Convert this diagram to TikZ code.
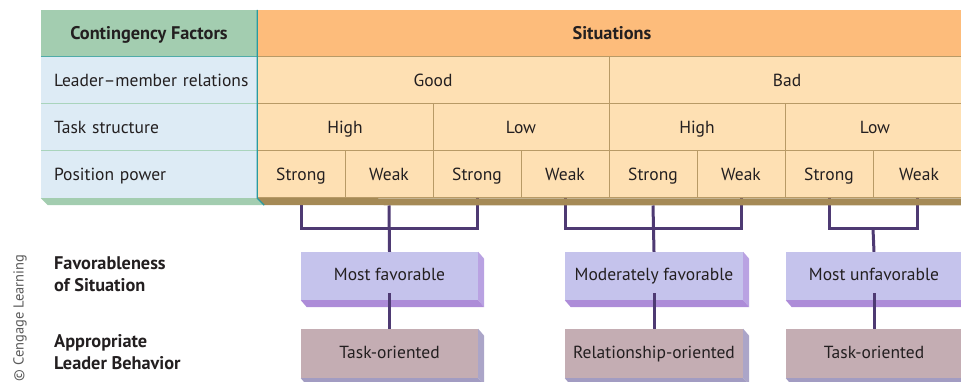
\documentclass[tikz,border=0pt]{standalone}
\usepackage{fontspec}
\setmainfont{PT Sans}
\definecolor{hdrL}{HTML}{A3CDB0}
\definecolor{hdrR}{HTML}{FDBC7B}
\definecolor{rowL}{HTML}{DDEBF5}
\definecolor{rowR}{HTML}{FEE0B3}
\definecolor{gridR}{HTML}{B89A66}
\definecolor{gridL}{HTML}{A9D4BC}
\definecolor{bandR}{HTML}{A58A56}
\definecolor{teal}{HTML}{2A9AA0}
\definecolor{conn}{HTML}{4E3A73}
\definecolor{favF}{HTML}{C5C3EC}
\definecolor{favS}{HTML}{B9A2E2}
\definecolor{favB}{HTML}{AD8CD8}
\definecolor{behF}{HTML}{C4ADB3}
\definecolor{behS}{HTML}{ABA5C8}
\definecolor{behB}{HTML}{A29CC2}
\definecolor{txt}{HTML}{231F20}
\begin{document}
\begin{tikzpicture}[x=1pt,y=-1pt,
  every node/.style={text=txt, inner sep=0pt},
  basefont/.style={font=\fontsize{17.5}{21}\selectfont, text height=12.5pt, text depth=3.5pt},
  cellfont/.style={font=\fontsize{17.5}{21}\selectfont, text height=15pt, text depth=2pt},
  cellR/.style={cellfont, fill=rowR, draw=gridR, line width=1pt, minimum height=47pt},
  cellL/.style={cellfont, fill=rowL, minimum height=47pt, minimum width=216pt, text width=190pt, align=left},
  hdr/.style={font=\fontsize{18.3}{21}\selectfont\bfseries, text height=15pt, text depth=2pt, minimum height=47pt},
  conline/.style={draw=conn, line width=3pt, line join=miter},
  favbox/.style={basefont, fill=favF, minimum height=48pt},
  behbox/.style={basefont, fill=behF, minimum height=49pt},
  sidelabel/.style={font=\fontsize{18.3}{22}\selectfont\bfseries, align=left, anchor=west}
]
\useasboundingbox (0,0) rectangle (961,382);

\coordinate (j1) at (389,229);
\coordinate (j2) at (653,229);
\coordinate (j3) at (873,229);

% header
\node[hdr, fill=hdrL, minimum width=216pt] (hL) at (149,33.5) {Contingency Factors};
\node[hdr, fill=hdrR, minimum width=710pt] (hR) at (612,33.5) {Situations};

% left column
\node[cellL] (lm) at (149,80.5) {\mbox{Leader–member relations}};
\node[cellL] (ts) at (149,127.5) {Task structure};
\node[cellL] (pp) at (149,174.5) {Position power};
\draw[teal!70!gridL, line width=1pt] (lm.north west) -- (lm.north east);
\draw[gridL, line width=1pt] (ts.north west) -- (ts.north east);
\draw[gridL, line width=1pt] (pp.north west) -- (pp.north east);

% right cells
\node[cellR, minimum width=352pt] (good) at (433,80.5) {Good};
\node[cellR, minimum width=356pt] (bad) at (787,80.5) {Bad};
\node[cellR, minimum width=176pt] (hi1) at (345,127.5) {High};
\node[cellR, minimum width=176pt] (lo1) at (521,127.5) {Low};
\node[cellR, minimum width=176pt] (hi2) at (697,127.5) {High};
\node[cellR, minimum width=180pt] (lo2) at (875,127.5) {Low};
\node[cellR, minimum width=88pt] (p1) at (301,174.5) {Strong};
\node[cellR, minimum width=88pt] (p2) at (389,174.5) {Weak};
\node[cellR, minimum width=88pt] (p3) at (477,174.5) {Strong};
\node[cellR, minimum width=88pt] (p4) at (565,174.5) {Weak};
\node[cellR, minimum width=88pt] (p5) at (653,174.5) {Strong};
\node[cellR, minimum width=88pt] (p6) at (741,174.5) {Weak};
\node[cellR, minimum width=88pt] (p7) at (829,174.5) {Strong};
\node[cellR, minimum width=92pt] (p8) at (919,174.5) {Weak};

% connectors
\draw[conline] (p1.south) |- (j1) -| (p3.south);
\draw[conline] (p4.south) |- (j2) -| (p6.south);
\draw[conline] (p7.south) |- (j3) -| ([xshift=-2pt]p8.south);

% bottom bands of the table
\fill[hdrL] (pp.south west) -- (pp.south east) -- ++(7,7) -- ([shift={(7,7)}]pp.south west) -- cycle;
\fill[bandR] (pp.south east) -- ([xshift=10pt]p8.south east) -- ++(0,7) -- ([shift={(7,7)}]pp.south east) -- cycle;
\draw[teal, line width=1.2pt] (hL.north east) -- (pp.south east) -- ++(7,7);

% favorableness boxes
\node[favbox, minimum width=177pt] (f1) at (389.5,276) {Most favorable};
\node[favbox, minimum width=178pt] (f2) at (654,276) {Moderately favorable};
\node[favbox, minimum width=176pt] (f3) at (874,276) {Most unfavorable};
% behaviour boxes
\node[behbox, minimum width=177pt] (b1) at (389.5,353.5) {Task-oriented};
\node[behbox, minimum width=178pt] (b2) at (654,353.5) {Relationship-oriented};
\node[behbox, minimum width=176pt] (b3) at (874,353.5) {Task-oriented};

\foreach \n in {f1,f2,f3} {
  \fill[favS] (\n.north east) -- ++(6,7) -- ([shift={(6,7)}]\n.south east) -- (\n.south east) -- cycle;
  \fill[favB] (\n.south west) -- ++(6,7) -- ([shift={(6,7)}]\n.south east) -- (\n.south east) -- cycle;
}
\foreach \n in {b1,b2,b3} {
  \fill[behS] (\n.north east) -- ++(6,7) -- ([shift={(6,7)}]\n.south east) -- (\n.south east) -- cycle;
  \fill[behB] (\n.south west) -- ++(6,7) -- ([shift={(6,7)}]\n.south east) -- (\n.south east) -- cycle;
}

% vertical links
\draw[conline] (p2.south) ++(0,7) -- (f1.north);
\draw[conline] (p5.south) ++(0,7) -- (f2.north);
\draw[conline] (j3) -- (f3.north);
\draw[conline] ([yshift=7pt]f1.south) -- (b1.north);
\draw[conline] ([yshift=7pt]f2.south) -- (b2.north);
\draw[conline] ([yshift=7pt]f3.south) -- (b3.north);

% side labels
\node[sidelabel] (fav) at (54,274) {Favorableness\\of Situation};
\node[sidelabel] (beh) at (54,352.5) {Appropriate\\Leader Behavior};

% copyright
\node[rotate=90, font=\fontsize{14.5}{15}\selectfont, text=black!65] (copy) at (20,318) {© Cengage Learning};
\end{tikzpicture}
\end{document}
